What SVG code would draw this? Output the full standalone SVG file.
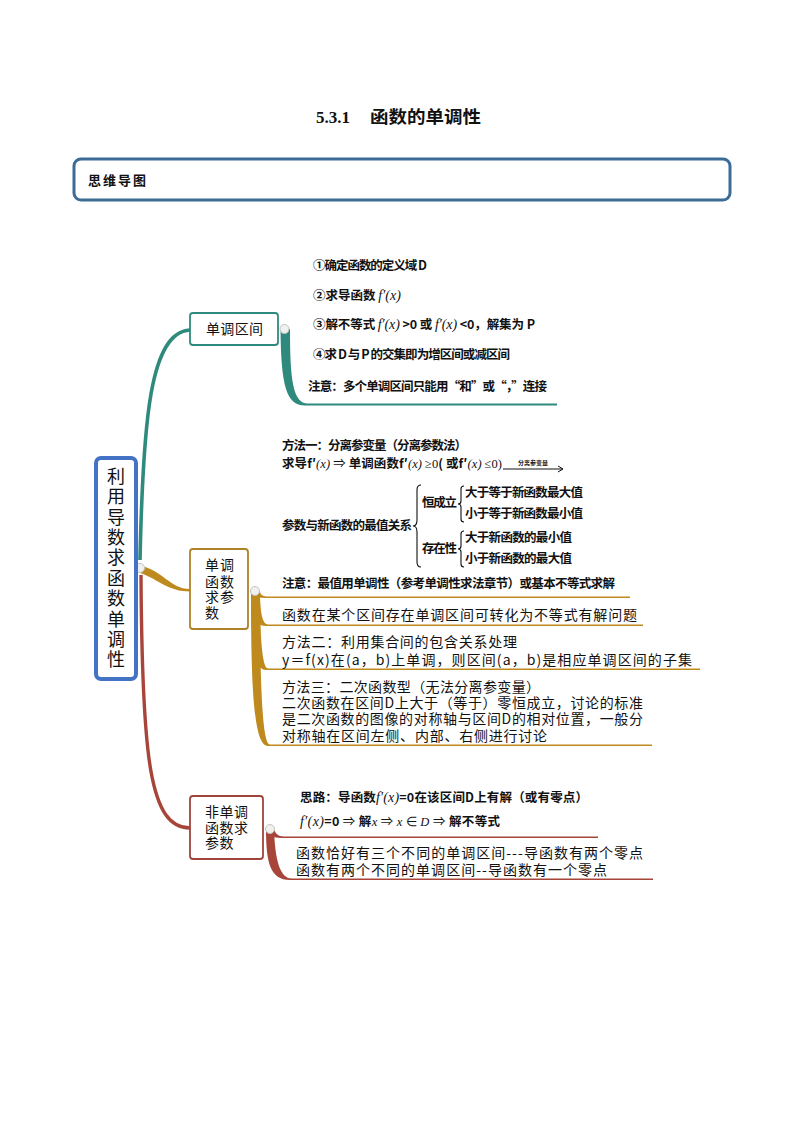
<svg xmlns="http://www.w3.org/2000/svg" width="794" height="1123" viewBox="0 0 794 1123">
<defs>
<style>
.b{font-family:"Noto Sans CJK SC","Liberation Sans",sans-serif;font-weight:bold;font-size:12.5px;fill:#111}
.s{font-family:"Noto Sans CJK SC","Liberation Serif",serif;font-size:14px;fill:#111}
.m{font-family:"Liberation Serif",serif;font-style:italic;font-weight:normal}
.n{font-family:"Noto Sans CJK SC","Liberation Sans",sans-serif;font-size:14px;fill:#111}
.j{fill:#f0f0ee;stroke:#c4c4c0;stroke-width:1}
.br{fill:none;stroke:#111;stroke-width:1.1}
</style>
<marker id="ah" markerWidth="8" markerHeight="8" refX="6" refY="4" orient="auto" markerUnits="userSpaceOnUse">
<path d="M1,1 L6,4 L1,7" fill="none" stroke="#111" stroke-width="1"/>
</marker>
</defs>
<rect width="794" height="1123" fill="#fff"/>

<g id="title">
<text x="316" y="123" font-family="Liberation Serif,serif" font-weight="bold" font-size="17" fill="#111">5.3.1</text>
<text x="370" y="123" font-family="Noto Sans CJK SC,sans-serif" font-weight="bold" font-size="17" fill="#111" textLength="111" lengthAdjust="spacingAndGlyphs">函数的单调性</text>
</g>

<g id="header">
<rect x="74" y="159" width="656" height="41" rx="7" fill="#fff" stroke="#3D6B98" stroke-width="3"/>
<text x="88" y="185" font-family="Noto Sans CJK SC,sans-serif" font-weight="bold" font-size="13" fill="#111" textLength="58">思维导图</text>
</g>

<g id="connectors">
<path d="M140 560 C143 420,150 332,190 330" fill="none" stroke="#2F8A7E" stroke-width="3.6"/>
<path d="M138 565 C163 570,170 589,190 589 L190 591.5 C168 591.5,160 580,140 573 Z" fill="#BF8A1D"/>
<path d="M141 575 C142 760,150 828,190 828" fill="none" stroke="#A8453B" stroke-width="3.4"/>
<path d="M280.5 329 C281 385,286 405.5,305 405.5 L557 405.5 L557 403.5 L308 403.5 C293 403.5,290 380,290 329 Z" fill="#2F8A7E"/>
<path d="M251 591 C251 595,254 598,266 598 L630 598 L630 596.5 L268 596.5 C262 596.5,260 594,260 591 Z" fill="#BF8A1D"/>
<path d="M251 591 C251 613,254 626,266 626 L643 626 L643 624.5 L268 624.5 C262 624.5,260 610,260 591 Z" fill="#BF8A1D"/>
<path d="M251 591 C251 642,254 670,266 670 L700 670 L700 668.5 L268 668.5 C262 668.5,260 634,260 591 Z" fill="#BF8A1D"/>
<path d="M251 591 C251 691,254 746,268 746 L652 746 L652 744.5 L270 744.5 C262 744.5,260 676,260 591 Z" fill="#BF8A1D"/>
<path d="M266 829 C266 833,270 838,282 838 L598 838 L598 836.5 L284 836.5 C278 836.5,275 833,274 829 Z" fill="#A8453B"/>
<path d="M266 829 C266 862,270 880,290 880 L653 880 L653 878.5 L292 878.5 C280 878.5,275 860,274 829 Z" fill="#A8453B"/>
<circle class="j" cx="140" cy="568" r="4.5"/>
<circle class="j" cx="284.5" cy="329" r="4.5"/>
<circle class="j" cx="255" cy="591" r="4.5"/>
<circle class="j" cx="270" cy="829" r="4.5"/>
</g>

<g id="central">
<rect x="96" y="458" width="40" height="221" rx="5" fill="#fff" stroke="#4472C4" stroke-width="4"/>
<text x="116" y="467" writing-mode="vertical-rl" letter-spacing="2.4" font-family="Noto Sans CJK SC,sans-serif" font-size="18" fill="#111">利用导数求函数单调性</text>
</g>

<g id="node1">
<rect x="190" y="313" width="88" height="32" rx="3" fill="#fff" stroke="#2F8A7E" stroke-width="1.8"/>
<text class="n" x="206" y="334" textLength="57">单调区间</text>
</g>

<g id="node2">
<rect x="190" y="549" width="58" height="80" rx="3" fill="#fff" stroke="#B08228" stroke-width="1.8"/>
<text class="n" letter-spacing="1"><tspan x="205" y="570">单调</tspan><tspan x="205" y="587">函数</tspan><tspan x="205" y="602">求参</tspan><tspan x="205" y="618">数</tspan></text>
</g>

<g id="node3">
<rect x="190" y="796" width="73" height="63" rx="3" fill="#fff" stroke="#A0443C" stroke-width="1.8"/>
<text class="n" letter-spacing="0.5"><tspan x="205" y="817">非单调</tspan><tspan x="205" y="833">函数求</tspan><tspan x="205" y="848">参数</tspan></text>
</g>

<g id="node1-items">
<text class="b" x="313" y="269.5" textLength="114">①确定函数的定义域 D</text>
<text class="b" x="313" y="299.5">②求导函数 <tspan class="m" font-size="14">f′(x)</tspan></text>
<text class="b" x="313" y="328.5" textLength="222">③解不等式 <tspan class="m" font-size="14">f′(x)</tspan> &gt;0 或 <tspan class="m" font-size="14">f′(x)</tspan> &lt;0，解集为 P</text>
<text class="b" x="313" y="358.5" textLength="197">④求 D 与 P 的交集即为增区间或减区间</text>
<text class="b" x="308" y="391" textLength="239">注意：多个单调区间只能用“和”或“，”连接</text>
</g>

<g id="node2-items">
<text class="b" x="282" y="449.5" textLength="185">方法一：分离参变量（分离参数法）</text>
<text class="b" x="282" y="468" textLength="220">求导f′<tspan class="m">(x)</tspan> <tspan font-weight="normal">⇒</tspan> 单调函数f′<tspan class="m">(x)</tspan> <tspan font-family="Liberation Serif,serif" font-weight="normal">≥0</tspan>( 或f′<tspan class="m">(x)</tspan> <tspan font-family="Liberation Serif,serif" font-weight="normal">≤0)</tspan></text>
<line x1="503" y1="469" x2="563" y2="469" stroke="#111" stroke-width="1" marker-end="url(#ah)"/>
<text x="533" y="465" text-anchor="middle" font-family="Noto Sans CJK SC,sans-serif" font-size="6" font-weight="bold" fill="#111">分离参变量</text>
<text class="b" x="282" y="529.5" textLength="130">参数与新函数的最值关系</text>
<path class="br" d="M421 485 Q417 485 417 490 L417 520 Q417 526 413 526 Q417 526 417 532 L417 562 Q417 567 421 567"/>
<text class="b" x="422" y="506.5" textLength="35">恒成立</text>
<text class="b" x="422" y="552.5" textLength="35">存在性</text>
<path class="br" d="M464 486 Q461 486 461 489 L461 501 Q461 504 458 504 Q461 504 461 507 L461 519 Q461 522 464 522"/>
<path class="br" d="M464 531 Q461 531 461 534 L461 546 Q461 549 458 549 Q461 549 461 552 L461 564 Q461 567 464 567"/>
<text class="b"><tspan x="465" y="496.5" textLength="118">大于等于新函数最大值</tspan><tspan x="465" y="517.5" textLength="118">小于等于新函数最小值</tspan><tspan x="465" y="541.5" textLength="107">大于新函数的最小值</tspan><tspan x="465" y="562.5" textLength="107">小于新函数的最大值</tspan></text>
<text class="b" x="282" y="587.5" textLength="333">注意：最值用单调性（参考单调性求法章节）或基本不等式求解</text>
<text class="s" x="282" y="620" textLength="355">函数在某个区间存在单调区间可转化为不等式有解问题</text>
<text class="s"><tspan x="282" y="647" textLength="235">方法二：利用集合间的包含关系处理</tspan><tspan x="282" y="665" textLength="410">y＝f(x)在(a，b)上单调，则区间(a，b)是相应单调区间的子集</tspan></text>
<text class="s"><tspan x="282" y="692" textLength="258">方法三：二次函数型（无法分离参变量）</tspan><tspan x="282" y="708" textLength="361">二次函数在区间D上大于（等于）零恒成立，讨论的标准</tspan><tspan x="282" y="724" textLength="361">是二次函数的图像的对称轴与区间D的相对位置，一般分</tspan><tspan x="282" y="741" textLength="265">对称轴在区间左侧、内部、右侧进行讨论</tspan></text>
</g>

<g id="node3-items">
<text class="b" x="300" y="801.5" textLength="288">思路：导函数<tspan class="m" font-size="14">f′(x)</tspan>=0在该区间D上有解（或有零点）</text>
<text class="b" x="300" y="825.5" textLength="200"><tspan class="m" font-size="14">f′(x)</tspan>=0 <tspan font-weight="normal">⇒</tspan> 解<tspan class="m">x</tspan> <tspan font-weight="normal">⇒</tspan> <tspan class="m">x</tspan> <tspan font-family="Liberation Serif,serif" font-weight="normal">∈</tspan> <tspan class="m">D</tspan> <tspan font-weight="normal">⇒</tspan> 解不等式</text>
<text class="s"><tspan x="296" y="858" textLength="347">函数恰好有三个不同的单调区间---导函数有两个零点</tspan><tspan x="296" y="875" textLength="311">函数有两个不同的单调区间--导函数有一个零点</tspan></text>
</g>
</svg>
